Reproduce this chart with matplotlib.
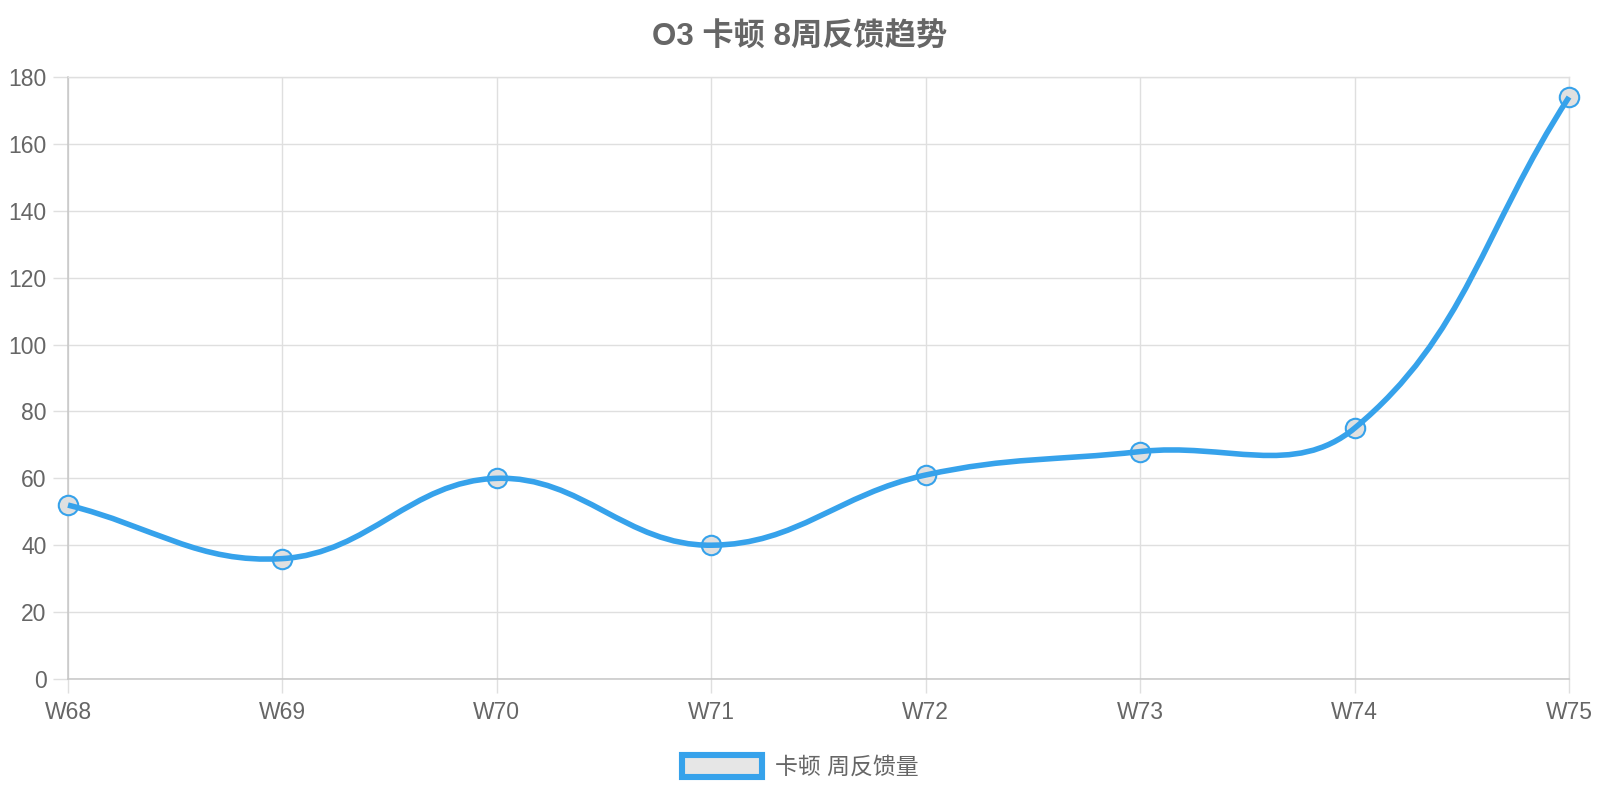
import matplotlib
matplotlib.use('Agg')
import numpy as np
import matplotlib.pyplot as plt
from matplotlib.path import Path
from matplotlib.patches import PathPatch, Patch

plt.rcParams['font.family'] = ['Liberation Sans', 'Noto Sans CJK SC', 'DejaVu Sans']

weeks = ["W68", "W69", "W70", "W71", "W72", "W73", "W74", "W75"]
feedback = [52, 36, 60, 40, 61, 68, 75, 174]
y_ticks = [0, 20, 40, 60, 80, 100, 120, 140, 160, 180]
title = "O3 卡顿 8周反馈趋势"
series_name = "卡顿 周反馈量"

BLUE = "#36a2eb"
GRID = "#dfdfdf"
AXIS = "#c6c6c6"
TEXT = "#666666"
TENSION = 0.4


def spline_path(ax, xs, ys, t=TENSION):
    """Chart.js style bezier (tension in pixel space), returned as data-space path"""
    pts = ax.transData.transform(np.column_stack([xs, ys]))
    n = len(pts)
    cp_prev = np.zeros_like(pts)
    cp_next = np.zeros_like(pts)
    for i in range(n):
        before = pts[i - 1] if i > 0 else pts[i]
        after = pts[i + 1] if i < n - 1 else pts[i]
        mid = pts[i]
        d01 = np.hypot(*(mid - before))
        d12 = np.hypot(*(after - mid))
        tot = d01 + d12
        s01 = d01 / tot if tot else 0
        s12 = d12 / tot if tot else 0
        cp_prev[i] = mid - t * s01 * (after - before)
        cp_next[i] = mid + t * s12 * (after - before)
    verts = [pts[0]]
    codes = [Path.MOVETO]
    for i in range(n - 1):
        verts += [cp_next[i], cp_prev[i + 1], pts[i + 1]]
        codes += [Path.CURVE4] * 3
    inv = ax.transData.inverted()
    return Path(inv.transform(np.array(verts)), codes)


fig = plt.figure(figsize=(16, 8), dpi=100, facecolor="white")
ax = fig.add_axes([0.0425, 0.15125, 0.93813, 0.7525])

x = np.arange(len(weeks))
ax.set_xlim(0, len(weeks) - 1)
ax.set_ylim(0, 180)
ax.set_xticks(x)
ax.set_xticklabels(weeks)
ax.set_yticks(y_ticks)

ax.grid(True, color=GRID, linewidth=1.0, zorder=0)
ax.set_axisbelow(True)
for side in ["top", "right"]:
    ax.spines[side].set_color(GRID)
    ax.spines[side].set_linewidth(1.0)
for side in ["left", "bottom"]:
    ax.spines[side].set_color(AXIS)
    ax.spines[side].set_linewidth(1.1)

ax.tick_params(axis="y", length=10.8, width=1.0, color=GRID, pad=4.5,
               labelsize=16.5, labelcolor=TEXT)
ax.tick_params(axis="x", length=10, width=1.0, color=GRID, pad=6,
               labelsize=16.5, labelcolor=TEXT)

ax.plot(x, feedback, linestyle="none", marker="o", markersize=14,
        markerfacecolor="#e0e0e0", markeredgecolor=BLUE, markeredgewidth=1.5,
        clip_on=False, zorder=3)

path = spline_path(ax, x, feedback)
ax.add_patch(PathPatch(path, facecolor="none", edgecolor=BLUE, linewidth=4.0,
                       capstyle="butt", joinstyle="round", clip_on=False, zorder=4))

fig.text(0.5, 0.9525, title, ha="center", va="center", fontsize=22.5,
         fontweight="bold", color=TEXT)

handle = Patch(facecolor="#e6e6e6", edgecolor=BLUE, linewidth=4.4, label=series_name)
fig.legend(handles=[handle], loc="center", bbox_to_anchor=(0.5, 0.041),
           frameon=False, fontsize=16.5, labelcolor=TEXT,
           handlelength=3.5, handleheight=1.05, handletextpad=0.55, borderpad=0)

fig.savefig("out.png", dpi=100, facecolor="white")
